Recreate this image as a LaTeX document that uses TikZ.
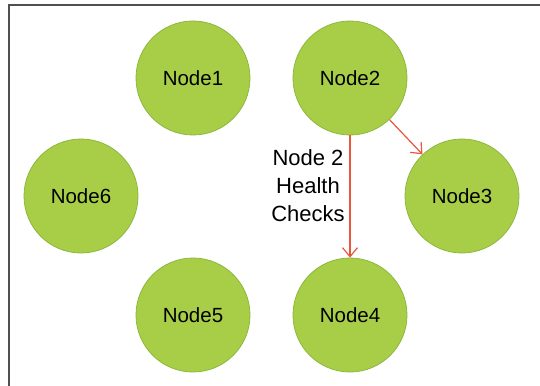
\documentclass[tikz,border=0pt]{standalone}
\usepackage{fontspec}
\setmainfont{Liberation Sans}
\usetikzlibrary{arrows.meta}
\definecolor{nodegreen}{RGB}{168,206,72}
\definecolor{nodeedge}{RGB}{140,184,60}
\definecolor{arrowred}{RGB}{232,86,60}
\definecolor{framegray}{RGB}{80,80,80}
\begin{document}
\begin{tikzpicture}[x=1pt,y=-1pt,
  nodecircle/.style={circle, fill=nodegreen, draw=nodeedge, line width=0.8pt,
    minimum size=114pt, inner sep=0pt, font=\fontsize{20.5}{24}\selectfont},
  check/.style={draw=arrowred, line width=1.2pt,
    -{Straight Barb[length=9pt,width=15pt,line width=1.2pt]}}]
\useasboundingbox (0,0) rectangle (540,385);
\clip (0,0) rectangle (540,385);
\draw[framegray, line width=1.2pt] (9,5) rectangle (560,400);
\node[nodecircle] (n1) at (193,78) {Node1};
\node[nodecircle] (n2) at (350,78) {Node2};
\node[nodecircle] (n3) at (462,196) {Node3};
\node[nodecircle] (n4) at (350,315) {Node4};
\node[nodecircle] (n5) at (193,315) {Node5};
\node[nodecircle] (n6) at (81,196) {Node6};
\draw[check] (n2) -- (n4);
\draw[check] (n2) -- (n3);
\node[align=center, inner sep=0pt, font=\fontsize{22}{28}\selectfont] (lbl) at (308,186) {Node 2\\Health\\Checks};
\end{tikzpicture}
\end{document}
